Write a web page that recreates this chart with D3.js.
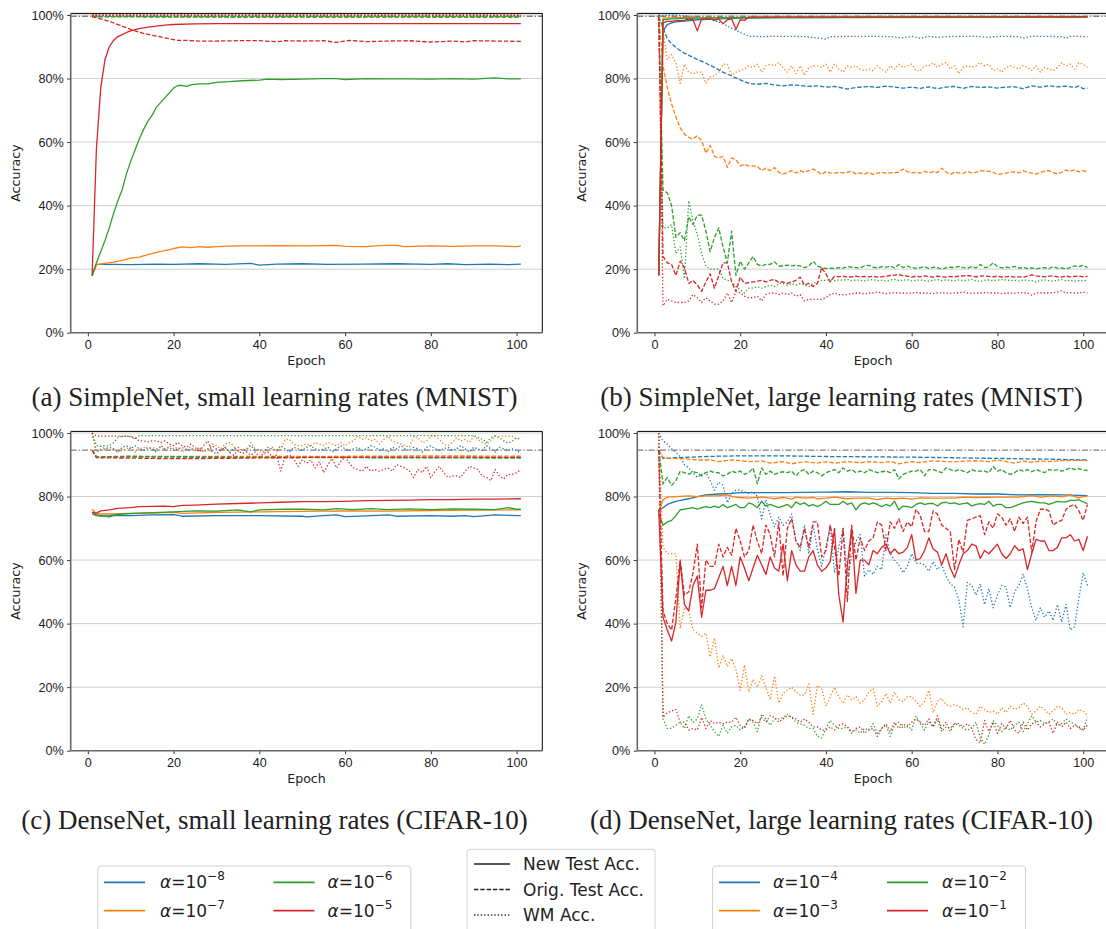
<!DOCTYPE html>
<html>
<head>
<meta charset="utf-8">
<script src="https://cdnjs.cloudflare.com/ajax/libs/d3/7.8.5/d3.min.js"></script>
<style>
  body { margin: 0; background: #fff; }
  svg { display: block; font-family: "DejaVu Sans", sans-serif; }
  text { fill: #222; }
</style>
</head>
<body>
<svg id="fig" width="1106" height="929"></svg>
<script>
// series are either [epoch, acc] pairs or plain values for epochs 1..101
const colors = ['#1f77b4', '#ff7f0e', '#2ca02c', '#d62728'];
const smallAlphas = ['-8', '-7', '-6', '-5'];
const largeAlphas = ['-4', '-3', '-2', '-1'];
const metricNames = ['New Test Acc.', 'Orig. Test Acc.', 'WM Acc.'];
const yTicks = [0, 20, 40, 60, 80, 100];
const xTicks = [0, 20, 40, 60, 80, 100];
const baselines = [99.6, 99.6, 94.6, 94.6];
const captions = [
  '(a) SimpleNet, small learning rates (MNIST)',
  '(b) SimpleNet, large learning rates (MNIST)',
  '(c) DenseNet, small learning rates (CIFAR-10)',
  '(d) DenseNet, large learning rates (CIFAR-10)'
];

// (a) SimpleNet, small learning rates
const aNewTest = [
  [[1,18],[2,21.5],[6,21.5],[10,21.4],[16,21.6],[20,21.5],[26,21.7],[32,21.5],[38,21.8],[40,21.3],[44,21.6],[50,21.7],[56,21.5],[64,21.6],[72,21.7],[80,21.5],[84,21.7],[88,21.4],[94,21.6],[98,21.4],[101,21.6]],
  [[1,18],[2,21.4],[4,21.8],[6,22.2],[8,22.8],[10,23.5],[12,23.8],[14,24.6],[16,25.3],[18,25.8],[20,26.5],[22,27],[24,26.8],[26,27.1],[28,26.9],[30,27.1],[35,27.3],[40,27.3],[45,27.4],[50,27.3],[55,27.4],[58,27.5],[60,27.2],[65,27.1],[68,27.4],[70,27.5],[72,27.5],[74,27.1],[80,27.3],[85,27.2],[90,27.3],[95,27.3],[100,27.1],[101,27.3]],
  [[1,18],[2,22],[3,25.5],[4,29],[5,33],[6,37.5],[7,41.5],[8,45],[9,50],[10,54],[11,57.5],[12,61],[13,64],[14,66.5],[15,68.5],[16,71],[17,72.5],[18,74],[19,75.5],[20,77],[21,77.8],[22,77.8],[23,77.5],[24,78],[26,78.3],[28,78.3],[30,78.8],[33,79],[36,79.3],[40,79.5],[42,79.8],[45,79.7],[50,79.8],[55,80],[58,80],[60,79.7],[65,80],[70,79.9],[75,79.9],[80,79.8],[85,80],[90,79.8],[95,80.2],[98,79.9],[101,79.9]],
  [[1,18],[2,58],[3,77],[4,86],[5,90],[6,92],[7,93.2],[8,93.8],[9,94.5],[10,95],[12,95.7],[14,96.2],[16,96.5],[18,96.8],[20,97],[25,97.2],[30,97.3],[60,97.3],[101,97.3]]
];
const aOrigTest = [
  [[1,99.5],[30,99.4],[60,99.5],[101,99.4]],
  [[1,99.5],[40,99.4],[80,99.5],[101,99.4]],
  [[1,99.5],[50,99.3],[101,99.3]],
  [[1,99.5],[3,98.8],[5,98],[7,97],[9,96],[11,95],[13,94.2],[15,93.6],[17,93.1],[19,92.5],[21,92],[23,92],[26,91.8],[30,91.8],[35,91.9],[40,91.9],[44,91.6],[46,91.9],[50,91.8],[55,91.9],[58,91.4],[61,92],[65,91.6],[70,91.8],[75,91.9],[80,91.5],[85,91.8],[88,91.5],[90,91.9],[95,91.8],[101,91.7]]
];
const aWmAcc = [
  [[1,100],[101,99.9]],
  [[1,100],[101,99.9]],
  [[1,100],[2,99.6],[101,99.6]],
  [[1,100],[101,100]]
];

// (b) SimpleNet, large learning rates
const bNewTest = [
  [[1,18],[2,95],[3,97],[4,97.5],[5,97.8],[7,98.1],[10,98.5],[15,98.8],[20,99],[30,99.2],[101,99.3]],
  [[1,18],[2,99],[5,99.2],[101,99.4]],
  [[1,18],[2,98.5],[4,98.8],[10,99],[20,99.2],[101,99.4]],
  [[1,18],[2,97.5],[3,98],[4,98],[5,98.2],[6,98.2],[7,98.3],[8,98.8],[9,98.5],[10,95],[11,98.8],[12,98.8],[13,98.8],[14,98.3],[15,98.8],[16,97.2],[17,98.5],[18,98.8],[19,95.5],[20,98.5],[21,98.3],[22,99.3],[101,99.4]]
];
const bOrigTest = [
  [[1,99.5],[2,96],[3,92.5],[4,91],[5,89.8],[6,88.8],[7,88],[8,87.3],[9,86.7],[10,86],[12,84.8],[14,83.5],[16,82],[18,80.8],[20,79.6],[22,78.5],[24,78.2],[26,78.5],[28,78],[30,77.7],[32,78],[34,77.8],[36,77.5],[38,77.7],[40,77.3],[42,77.5],[44,77],[45,76.7],[47,77.2],[50,77.5],[52,77.2],[54,77.6],[56,77.3],[58,77],[60,77.3],[62,76.9],[64,77.4],[66,76.8],[68,77.3],[70,77.5],[72,76.9],[74,77.5],[76,77.2],[78,77.4],[80,77],[82,77.3],[84,77.4],[86,76.8],[88,77.7],[90,77.3],[92,77.7],[94,77.4],[96,77.6],[98,77.2],[99,77.6],[100,76.8],[101,77]],
  [99.5,84,77,72,68,64.5,62.5,61.5,61,62,60.5,56.5,59,55.5,55,55.5,52,55,54.5,52.5,53,52.5,52.5,52.3,51,51.8,51,52,50.5,50,50.3,51,50.3,51,50.5,51,51.5,50.8,49.8,50.7,50.3,50.2,50.5,50.3,50.5,50.8,50,50.3,49.9,50.5,49.8,50.2,50.5,50.2,50.3,50.4,50.5,51.5,50.7,50.3,50.5,50.2,50.8,50.3,50.7,50.4,51.8,50.6,49.8,50.5,50.3,50.1,50.8,50.3,50.5,50.9,51,50.8,50.5,49.8,50,50.2,50.5,50.6,50.3,51,50.5,50.2,49.9,50.5,50.8,51,50.4,50,50.5,51.2,50.8,51.3,50.6,51,50.6],
  [99.5,45,44,40,30,31.5,29,36.5,34,37,37,32,25.5,30,33,27,22,32,18,22.5,20,22,24,21.5,21,21.5,21.5,22.3,21,21,21.3,21,21.2,21,20.5,21,22.5,21,20.5,20.2,20.3,20.2,20.5,20.3,20.8,20.6,20.5,20.4,21,21.2,20.6,20.4,20.8,20.6,21,20.4,21.5,20.5,21,20.4,20.3,20.5,20.8,20.2,20.6,20.5,20,20.4,20.6,20.5,20.9,20.5,20.3,20.8,20.4,21.5,20.5,20.7,22,20.8,20.4,20.6,20.5,20.9,20.3,20.5,20.2,20.4,20.1,20.3,20.5,20.2,20.8,20.3,20.4,20.1,20.5,21,20.8,21.2,20.5],
  [99.5,24,22,21.5,18,22.5,20.5,15.5,16.5,15,13,16,18.5,14,18,22,22,16,13,17.5,15.5,15.8,16,16.2,16.5,16,16.5,16.8,15.8,16,15.5,16,16.5,17.5,15,15.5,14.5,15.5,20.5,18.5,16,17.8,17.6,17.8,17.5,17.6,17.8,17.5,17.7,17.6,17.8,17.5,17.6,17.8,18,18.1,18.3,18,17.8,17.5,17.8,17.6,17.9,17.7,17.5,17.8,17.6,17.5,17.7,17.6,17.8,17.9,18,17.8,17.6,17.8,17.9,17.7,17.6,17.8,17.5,17.6,17.8,17.5,17.6,17.5,17.8,18.2,17.9,17.7,17.6,17.8,17.9,17.6,17.5,17.8,17.6,17.7,17.8,17.6,17.7]
];
const bWmAcc = [
  [[1,100],[2,99.8],[3,100],[4,100],[5,100],[6,99.8],[8,99.6],[10,99.3],[12,99],[14,98.2],[16,97.3],[18,95.8],[20,94.5],[21,94],[22,93.3],[25,93.2],[30,93.3],[35,93.2],[38,92.8],[40,92.4],[41,93.2],[50,93.3],[55,93.2],[58,92.8],[60,93.3],[62,92.7],[64,93.3],[66,93],[70,93.3],[75,93.3],[78,93],[80,93.3],[85,93.2],[86,92.7],[88,93.3],[95,93.2],[96,92.6],[97,93.3],[101,93.2]],
  [100,95,86,87.5,85,78.5,84.5,82,81.5,82,82,78.5,80.5,81,82,84.5,84.5,81,82,82.5,83,84,83.5,84.5,82,84,84.5,84,85,83.5,82,84,81.5,84,81,83.5,84,84,83.5,84.5,82,84.5,83,82,84,83.5,84,83,82.5,83,82.5,84,83,82,84,83,84.5,83.5,84,84.5,82.5,82.5,84,84,85,83.5,84.5,85,83,84,81.5,83.5,84,83.5,84,85,84,84.5,82.5,83,82,83.5,84,83.5,83,84,83.5,82.5,84,82,83.5,83,82.5,83.5,85,84,84.5,83,85,84.5,83.5],
  [100,33,33,34,25,27,17,41.5,35,31,25,21,20,20,20,17,16.5,16,14.5,13.5,12.5,14,14,14.5,14,14.5,15,14.5,15.5,15.5,15,15.5,15,15.5,15,14.5,15.5,16,16.5,16.5,16.7,16.4,16.6,16.5,16.8,16.4,16.6,16.5,16.3,16.6,16.7,16.4,16.5,16.2,16.6,16.8,16.4,16.5,16.7,16.3,16.5,16.6,16.4,16.2,16.5,16.7,16.4,16.6,16.5,16.3,16.6,16.4,16.5,16.8,16.3,16.2,16.5,16.6,16.4,16.5,16.7,16.6,16.4,16.5,16.3,16.6,16.5,16.4,15.9,16.5,16.6,16.4,16.2,16.5,16.7,16.3,16.5,16.2,16.4,16.3,16.6],
  [100,8.5,10.5,10,9.5,9.5,9.5,10,12,11,9.5,11,10,9,9,10,12.5,9.5,13,12.5,11.5,11,11,11.5,10,12,12.5,12.5,12,12.5,12,12.5,11.5,12,10,10.5,10.5,10.5,10.5,11,12,12.5,12,12,12,12.3,12.5,12.5,12.2,12.5,12.5,12.8,12.5,12.3,12.5,12.6,12.5,12.5,12.4,12.5,12.7,12.5,12.5,12.5,12.3,12.5,12.6,12.5,12.4,12.5,12.5,12.8,12.5,12.4,12.5,12.5,12.6,12.5,12.5,12.5,12.3,12.5,12.5,12.4,12.6,12.5,12.5,11.8,12.5,12.6,12.5,12.5,12.7,12.8,13.2,12.5,12.6,12.5,12.4,12.8,12.5]
];

// (c) DenseNet, small learning rates
const cNewTest = [
  [[1,75],[2,74.2],[3,74],[5,73.6],[6,74],[10,74],[15,74.2],[20,74.3],[22,73.8],[30,74],[40,74],[50,73.8],[51,73.6],[55,74],[58,74.2],[60,73.7],[65,73.9],[70,74.2],[72,73.8],[80,74],[85,73.8],[88,74],[90,73.7],[95,74.2],[101,74]],
  [[1,76],[2,74.5],[5,74.5],[10,74.7],[15,74.8],[20,75],[22,74.7],[30,75],[40,75.2],[50,75.3],[60,75.5],[70,75.4],[80,75.6],[90,75.7],[101,75.8]],
  [[1,74.5],[2,74],[3,73.8],[5,74],[8,74.5],[12,74.8],[20,75.2],[25,75.5],[30,75.4],[35,75.8],[38,75.2],[40,75.8],[46,76],[50,76],[55,75.8],[58,76.2],[62,75.9],[66,76.2],[70,75.9],[75,76.1],[80,75.9],[85,76.1],[90,76],[95,75.9],[98,76.5],[100,76],[101,76]],
  [[1,75],[2,74.8],[3,75.5],[5,75.8],[7,76.3],[10,76.5],[12,76.8],[15,76.9],[18,77],[20,76.8],[22,77.2],[25,77.3],[30,77.6],[35,77.8],[40,78],[45,78.2],[50,78.4],[55,78.4],[60,78.5],[65,78.7],[70,78.8],[75,78.9],[80,79],[85,79],[90,79.2],[95,79.2],[101,79.3]]
];
const cOrigTest = [
  [[1,94.6],[2,92.5],[10,92.5],[30,92.4],[60,92.5],[101,92.3]],
  [[1,94.6],[2,92.5],[20,92.6],[50,92.6],[80,92.8],[101,92.7]],
  [[1,94.6],[2,92.5],[10,92.7],[40,92.3],[70,92.2],[101,92.1]],
  [[1,94.6],[2,92.2],[10,92.1],[20,91.9],[30,92],[50,92.3],[101,92.3]]
];
const cWmAcc = [
  [100,94,94.5,95,95.5,95,94,95.5,96,95,96,95,94.5,95.5,95,94,96,95,95.5,94.5,95,95.5,94.5,95,94.5,95.5,94,95,96,95,94.5,95.5,94,95,95.5,94.5,95,96,94.5,95,94,95.5,95,94.5,96,95,94,95.5,95,94.5,95.5,96,95,94.5,95,95.5,94,95,96,95,94.5,95,95.5,94.5,95,96,95.5,94.5,95,94,95.5,95,96,95,94.5,95.5,95,94,95.5,96,95,94.5,95,95.5,94.5,95,96,95,94,95.5,95,94.5,96,95,94,95.5,95,94.5,95,94.5,93.5],
  [100,94,95,95.5,94.5,95,94,94.5,95,95.5,94,95,95.5,95,95.5,95,95.5,94.5,96,95,95.5,94,95,95.5,94.5,95.5,94,95,96.5,96,95,96.5,97,96,94,95,94,97,95,94.5,94,94.5,95.5,94,95,98,98,96.5,96,96,96.5,96,97,96.5,96,97,96.5,96,97,96,97,97.5,99,98,98.5,97.5,98,96.5,98,99,97.5,97,96.5,96,95.5,99,98.5,97,97.5,99,99,98,96.5,96,97,98.5,97.5,98,97,99,98,97,96.5,97.5,99,99,99,99,99,98,98.5],
  [[1,100],[2,96],[3,95.8],[4,96],[5,96],[6,97],[7,98.5],[8,99],[10,99],[11,98],[12,99.2],[40,99.2],[70,99.2],[90,99.2],[92,98],[93,97],[94,98.5],[95,99],[96,98.5],[97,97.5],[98,96.8],[99,97.5],[100,98.5],[101,98]],
  [100,99,99,99,99,99,99,99,99,98.8,98.5,97.5,97.5,97.2,97.5,97.5,97,97.5,96.5,96,97,96,95.5,96.5,95.5,94,96,97.5,94,93.5,94.5,95.5,94,93,94.5,93.5,94,93,94,92.5,93.5,94,92.5,93,88,92.5,93,92,89.5,91.5,90.5,91.5,89,91,87.5,90,92,89,91,92.5,90.5,89,88.5,88,89.5,88,88.5,88,88.5,89,88,90,89.5,89,88,86,88.5,87.5,89.5,86,88,89.5,87.5,86,86.5,86.5,86,88,89.5,89,88.5,86.5,86,85,88.5,86.5,85.5,87,87,87.5,88.5]
];

// (d) DenseNet, large learning rates
const dNewTest = [
  [[1,75.5],[2,76.5],[3,77.5],[4,78],[5,78.5],[6,78.8],[8,79.3],[10,80],[12,80.5],[15,80.8],[18,81],[20,81.2],[25,81.2],[30,81.2],[35,81.3],[40,81.4],[45,81.5],[50,81.3],[55,81.3],[60,81.2],[65,81],[70,81],[75,80.8],[80,80.8],[85,80.5],[90,80.6],[95,80.5],[101,80.3]],
  [[1,75],[2,79],[3,79.8],[5,80],[8,80.2],[10,80],[12,80.2],[15,80.3],[17,80.5],[18,80],[20,79.7],[22,79.5],[25,79.8],[27,79.5],[28,79.3],[30,79.7],[32,79.2],[33,79.8],[35,79.5],[37,79.7],[38,79.3],[40,79.5],[42,79.8],[45,79.3],[47,79.5],[50,79.5],[52,79],[54,79.5],[56,79.3],[58,79.5],[60,79.2],[62,79.6],[65,79.5],[68,79.5],[70,79.5],[72,79.8],[75,79.7],[80,79.8],[85,79.8],[88,80.3],[90,79.8],[93,80.2],[95,79.9],[97,80.5],[98,80],[99,79.6],[100,80],[101,80.1]],
  [74.5,71,72,72.5,74,75.8,76,76.3,76.5,76,76.5,76.8,76.5,77,76.5,77.5,76.5,77,77.5,76.5,76.5,78,77.5,76.5,78.5,77,77.5,77,76.5,77,77.5,76.5,78.3,77.5,78,77,77.5,76.8,77.5,78.5,77.5,77.5,77.5,78.5,77.5,78,75.8,77.5,78,77.5,78,77.5,76.8,77.5,77,78.5,75.8,77,76.8,76.5,77.5,78,77.5,77.8,77.8,77,78,78.2,77.8,78,77.5,77.8,78,77,77.5,77.8,77.5,78.5,77,77.5,77.5,76.5,76.5,77,77.5,78,78.3,78.5,78.2,78,78,77.5,78,78.5,78.3,78.3,78.8,78.8,79,78.3,77.8],
  [76,42,38,34.5,40.5,59.5,46,44,52,55,42,50.5,50.5,51,54.5,58,52,58,52,61,57.5,53.5,57.5,61.5,58.5,55.5,61,57.5,56.5,65,53.5,63,58.5,56.5,56.5,61,63,58.5,56.5,57.5,59.5,70,49,40.5,58.5,70,49.5,60,60,58.5,63,62,64,65,62,63.5,62,62.5,64,68,60,60.5,63,67,63.5,62.5,58.5,62,57.5,54.5,58.5,62,63,65,64.5,60.5,63,62,63.5,65,62,60.5,62,64.5,63,63.5,57,62,66.5,66,66,63,63,64,67,67,68,66,66.5,63,67.5]
];
const dOrigTest = [
  [[1,94.6],[2,92],[5,92.2],[10,92.5],[15,92.7],[20,92.8],[30,92.8],[40,92.6],[50,92.5],[60,92.4],[70,92.2],[80,92],[90,91.8],[101,91.5]],
  [[1,94.6],[2,92.3],[3,92],[5,92],[8,91.8],[10,91.5],[13,91.5],[15,91],[18,91.5],[20,91.3],[22,91],[25,91.2],[27,90.5],[30,91],[32,90.3],[35,91],[38,90.5],[40,91],[42,90.5],[45,91],[48,90.6],[50,91],[53,90.7],[55,91],[57,90.3],[60,91],[62,90.7],[65,91.2],[68,91],[70,90.9],[73,91.2],[75,91.3],[78,91],[80,91.5],[82,91],[84,90.5],[86,91.2],[88,90.8],[90,91.2],[92,91],[95,91.3],[98,91.4],[101,91.3]],
  [94.6,84,86,83.5,85,88,87.5,87,87.8,87.5,86.5,87.5,88,87.5,87.5,86.5,87,88,87.5,88,87,87.5,89,84,89,87,88,87,87.5,87.8,87.5,88,86.5,88,88.5,87,88,87.5,86.5,87.5,88,88.5,87.5,89,88,88.5,87.5,88,87.5,88.5,88,87.5,87.8,88,87.5,88.5,85.5,87,87.5,88,88,88.5,86.5,88.5,88.5,88,87.5,89,88.5,88,88.5,88,87.5,88.5,88,88,88,87.5,89.5,88,88.5,87.5,87,87.5,88.5,88,88.5,87.8,88.5,88,87.5,88.5,88.2,88.5,88,88.5,89,88.5,88.8,88.3,88.2],
  [94.6,44,40,38,48,60,49,50,56,65,45,60,58,58,65,61,64,61.5,70,66,61,63,71,66,62,71,68,61,72,55,70,73,66,64,70,64,72,72,61,63,71,64,55,70,47,71,60,67,63,66,67,72,71,63,72,70,73,69,72,70.5,76,74,69,69,75.5,74.5,71,70,69,57,66.5,62.5,72.5,73,73.5,74,68,72,70,74.5,73.5,71,73,69,73.5,71.5,73.5,62.5,72,76,76,75.5,71,72,72.5,76,77,77.5,75.5,72.5,77.5]
];
const dWmAcc = [
  [100,97.5,96.5,95,94,92.5,90,89,87.5,86,87,87.5,85,82,84.5,83.5,78,81,82,82,81.5,81,81.5,80,73,79,74,70.5,73.5,71,72,74.5,66,63,71,62,71,63.5,58,64,70.5,56,64,70,55,61,66,68,55,57,55.5,58,57,68,62,60,58.5,56,58,62,59,59,58.5,56.5,59.5,57,58.5,55,52.5,51.5,47.5,39,53,52,49,52.5,46,51,45,49,52,51.5,45,50,52,55.5,51,45,41,45,42,44,41,46,40.5,46,38,39,48,56,52],
  [100,64,62,62,62,38.5,45,44,38,37,36,37,29.5,35.5,26,30,26.5,29,25.5,19,27,18.5,22.5,20,23.5,20,16,23.5,15,18,19,20,18.5,17.5,17.5,21,11.5,20.5,19.5,14,17,20,17,15,17.5,16,17,15,16,18.5,19.5,14,15.5,18,15,18.5,16,15.5,17,17,15.5,14,15.5,19,12,15.5,16.5,14.5,14,14.5,14,13,13.5,12,11.5,14,13,12,12.5,11.5,13.5,12,14,13,13.5,15,14,11.5,12.5,14,13,11.5,12.5,14,13.5,11.5,12,11.5,13,12.5,11],
  [100,10,7,7,8,9,7,11,9,10,14.5,10,8,6,4.5,8,5.5,7.5,8,6.5,7.5,10,9,6,11.5,10,8,10,10,10.5,11.5,10.5,9,8.5,8,7,7,4.5,4,7,9.5,8,7,7,7.5,6,6.5,5.5,7,6.5,8.5,5.5,7,8,4.5,8,9,7,8,6.5,11,8.5,6.5,9,7.5,10,6,7.5,7,8.5,8,7,6.5,7,9,4,2,5,9.5,8,6,7.5,6.5,8,9,6,8.5,11,9,9.5,8.5,9,10,8,8.5,10,9,8.5,7,6.5,10.5],
  [100,10.5,12,12.5,13,9,9,6.5,7,6.5,10.5,7,9.5,8.5,9,8.5,9,9,10.5,8,7,10,9.5,8.5,10.5,9,11,10.5,9,10,11,10.5,10,9,10,9,7.5,7.5,6.5,6.5,7.5,6.5,8,8.5,7.5,5.5,7,7.5,5.5,6.5,7,4.5,7,8.5,6,9,7,8.5,7.5,9,10,9,8,10,7.5,11,7,9,6,8.5,8.5,7.5,8.5,7,3.5,2.5,9.5,6,9,5.5,8.5,7,9.5,6.5,5.5,9,6.5,8.5,9,7.5,8.5,9,5.5,9,7.5,9,7,8,7.5,6.5,8]
];

const panelData = [
  [aNewTest, aOrigTest, aWmAcc],
  [bNewTest, bOrigTest, bWmAcc],
  [cNewTest, cOrigTest, cWmAcc],
  [dNewTest, dOrigTest, dWmAcc]
];

// layout (pixels)
const W = 471.6, H = 319.3;
const panelPos = [[70.7, 13.4], [637.3, 13.4], [70.7, 431.4], [637.3, 431.4]];
const captionPos = [[274.5, 406], [841.5, 406], [274.5, 829], [841.5, 829]];
const dashes = [null, '4.4,1.9', '1.3,2.1'];
const serif = '"Liberation Serif", "Times New Roman", serif';

const svg = d3.select('#fig');
const x = d3.scaleLinear().domain([-4, 106]).range([0, W]);
const y = d3.scaleLinear().domain([0, 100.5]).range([H, 0]);
const line = d3.line().x(d => x(d[0])).y(d => y(d[1]));
const toPoints = s => typeof s[0] === 'number' ? s.map((v, i) => [i + 1, v]) : s;

panelData.forEach(function(metrics, p) {
  const g = svg.append('g')
    .attr('transform', 'translate(' + panelPos[p][0] + ',' + panelPos[p][1] + ')');

  g.append('clipPath').attr('id', 'clip' + p)
    .append('rect').attr('width', W).attr('height', H);

  // horizontal grid
  g.append('g').selectAll('line').data(yTicks.slice(1)).join('line')
    .attr('x1', 0).attr('x2', W)
    .attr('y1', d => y(d)).attr('y2', d => y(d))
    .attr('stroke', '#cfcfcf').attr('stroke-width', 1);

  const plot = g.append('g').attr('clip-path', 'url(#clip' + p + ')');

  // baseline (original accuracy)
  plot.append('line')
    .attr('x1', 0).attr('x2', W)
    .attr('y1', y(baselines[p])).attr('y2', y(baselines[p]))
    .attr('stroke', '#7f7f7f').attr('stroke-width', 1.4)
    .attr('stroke-dasharray', '6,2,1.4,2');

  colors.forEach(function(c, k) {
    metrics.forEach(function(series, m) {
      plot.append('path')
        .datum(toPoints(series[k]))
        .attr('d', line)
        .attr('fill', 'none')
        .attr('stroke', c)
        .attr('stroke-width', 1.3)
        .attr('stroke-linejoin', 'round')
        .attr('stroke-dasharray', dashes[m]);
    });
  });

  // axes
  const ax = g.append('g').attr('transform', 'translate(0,' + H + ')')
    .call(d3.axisBottom(x).tickValues(xTicks).tickSize(3.5).tickPadding(3.5));
  const ay = g.append('g')
    .call(d3.axisLeft(y).tickValues(yTicks).tickFormat(d => d + '%').tickSize(3.5).tickPadding(3.5));
  [ax, ay].forEach(function(a) {
    a.select('.domain').remove();
    a.selectAll('text').attr('font-size', 12.6).attr('font-family', null).attr('fill', '#222');
    a.selectAll('line').attr('stroke', '#333');
  });

  // spines
  g.append('line').attr('x1', 0).attr('x2', W).attr('y1', 0).attr('y2', 0).attr('stroke', '#000').attr('stroke-width', 1);
  g.append('line').attr('x1', W).attr('x2', W).attr('y1', 0).attr('y2', H).attr('stroke', '#000').attr('stroke-width', 1);
  g.append('line').attr('x1', 0).attr('x2', 0).attr('y1', 0).attr('y2', H).attr('stroke', '#666').attr('stroke-width', 1.6);
  g.append('line').attr('x1', 0).attr('x2', W).attr('y1', H).attr('y2', H).attr('stroke', '#666').attr('stroke-width', 1.6);

  g.append('text').text('Epoch')
    .attr('x', W / 2).attr('y', H + 32).attr('text-anchor', 'middle').attr('font-size', 12.6);
  g.append('text').text('Accuracy')
    .attr('transform', 'translate(-51,' + H / 2 + ') rotate(-90)')
    .attr('text-anchor', 'middle').attr('font-size', 12.6);
});

// captions, font size fitted to the width of caption (a)
const probe = svg.append('text').text(captions[0])
  .style('font-family', serif).attr('font-size', 20);
const capSize = 20 * 486 / probe.node().getComputedTextLength();
probe.remove();
captions.forEach(function(t, i) {
  svg.append('text').text(t)
    .attr('x', captionPos[i][0]).attr('y', captionPos[i][1])
    .attr('text-anchor', 'middle')
    .style('font-family', serif)
    .attr('font-size', capSize);
});

// legends
function legendBox(x0, y0, w) {
  svg.append('rect').attr('x', x0).attr('y', y0).attr('width', w).attr('height', 90)
    .attr('rx', 3).attr('fill', '#fff').attr('stroke', '#d0d0d0').attr('stroke-width', 1);
}
function alphaLegend(x0, y0, alphas, hx, tx) {
  legendBox(x0, y0, 313);
  const rows = [16.3, 44.7];
  const order = [[0, 0, 0], [1, 0, 1], [2, 1, 0], [3, 1, 1]];
  order.forEach(function(o) {
    const k = o[0], cy = y0 + rows[o[2]];
    svg.append('line').attr('x1', hx[o[1]]).attr('x2', hx[o[1]] + 41)
      .attr('y1', cy).attr('y2', cy).attr('stroke', colors[k]).attr('stroke-width', 1.8);
    const t = svg.append('text').attr('x', tx[o[1]]).attr('y', cy + 6).attr('font-size', 17);
    t.append('tspan').attr('font-style', 'italic').text('\u03b1');
    t.append('tspan').text('=10');
    t.append('tspan').attr('font-size', 12).attr('dy', -8).text('\u2212' + alphas[k].slice(1));
  });
}
alphaLegend(97.8, 866, smallAlphas, [104, 273.5], [160, 327.5]);
alphaLegend(712.6, 866, largeAlphas, [719, 887], [773, 942]);

legendBox(467, 849.3, 188);
metricNames.forEach(function(name, m) {
  const cy = 864 + m * 25.5;
  svg.append('line').attr('x1', 474).attr('x2', 510).attr('y1', cy).attr('y2', cy)
    .attr('stroke', '#222').attr('stroke-width', 1.6).attr('stroke-dasharray', dashes[m]);
  svg.append('text').attr('x', 523).attr('y', cy + 6).attr('font-size', 17).text(name);
});
</script>
</body>
</html>
